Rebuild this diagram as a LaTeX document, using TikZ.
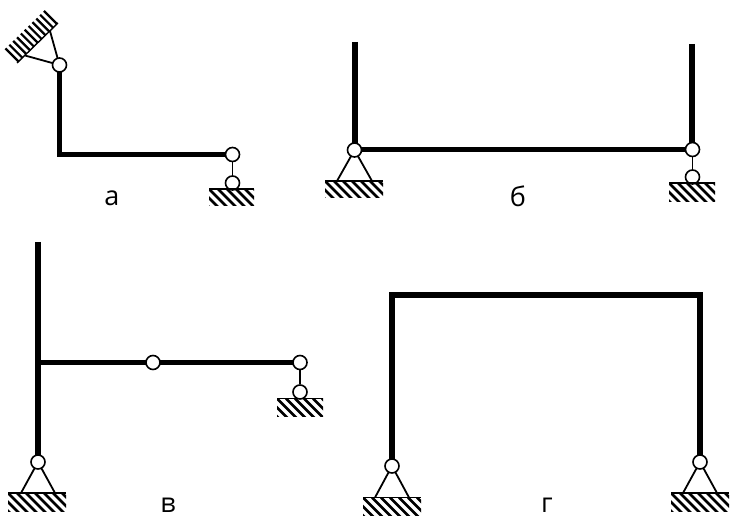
\documentclass[tikz,border=0pt]{standalone}
\usepackage{fontspec}
\setmainfont{Open Sans}
\usetikzlibrary{backgrounds}
\tikzset{
  x=1pt,y=-1pt,
  hinge/.style={circle,draw=black,fill=white,line width=1.6pt,minimum size=14pt,inner sep=0pt},
  frame/.style={line width=5.2pt,line join=miter,line cap=butt},
  thin link/.style={line width=1.8pt},
  groundline/.style={line width=1.4pt},
  hatchline/.style={line width=2.6pt},
  lab/.style={font=\fontsize{27}{27}\selectfont,inner sep=0pt}
}
% \ground{left}{right}{top}{bottom}
\newcommand{\groundhatch}[4]{%
  \begin{scope}
    \clip (#1,#3) rectangle (#2,#4);
    \foreach \k in {-3,...,9} {
      \draw[hatchline] ({#1+\k*9},#3) -- ({#1+\k*9+20},{#3+20});
    }
  \end{scope}
  \draw[groundline] (#1,#3) -- (#2,#3);
}
\begin{document}
\begin{tikzpicture}
\useasboundingbox (0,0) rectangle (741,526);
% hinges
\node[hinge] (a1) at (59.5,65) {};
\node[hinge] (a2) at (232.5,154.5) {};
\node[hinge] (a3) at (232.5,183) {};
\node[hinge] (b1) at (354.5,150) {};
\node[hinge] (b2) at (692.5,149.5) {};
\node[hinge] (b3) at (692.5,177) {};
\node[hinge] (v1) at (38,462) {};
\node[hinge] (v2) at (153,362.5) {};
\node[hinge] (v3) at (300,362.5) {};
\node[hinge] (v4) at (300,392) {};
\node[hinge] (g1) at (392,466) {};
\node[hinge] (g2) at (700,462) {};
% corners and free ends
\coordinate (ac) at (59.5,154.5);
\coordinate (bt1) at (355,42);
\coordinate (bt2) at (692,44);
\coordinate (vt) at (38,242);
\coordinate (vj) at (38,362.5);
\coordinate (gc1) at (392,295);
\coordinate (gc2) at (700,295);
% triangle feet
\coordinate (af1) at (25,55.5);
\coordinate (af2) at (50,31);
\coordinate (bf1) at (337,181);
\coordinate (bf2) at (372,181);
\coordinate (vf1) at (21,493);
\coordinate (vf2) at (55,493);
\coordinate (gf1) at (375,497.5);
\coordinate (gf2) at (409,497.5);
\coordinate (gf3) at (683,493);
\coordinate (gf4) at (717,493);
\begin{scope}[on background layer]
  \draw[frame] (a1.center) -- (ac) -- (a2.center);
  \draw[frame] (bt1) -- (355,149.5) -- (b2.center);
  \draw[frame] (bt2) -- (692,149.5);
  \draw[frame] (vt) -- (v1.center);
  \draw[frame,line width=4.4pt] (vj) -- (v3.center);
  \draw[frame] (g1.center) -- (gc1) -- (gc2) -- (g2.center);
  \draw[thin link] (a2) -- (a3);
  \draw[thin link] (b2) -- (b3);
  \draw[thin link] (v3) -- (v4);
  \draw[thin link] (af1) -- (a1.center) -- (af2);
  \draw[thin link] (bf1) -- (b1.center) -- (bf2);
  \draw[thin link] (vf1) -- (v1.center) -- (vf2);
  \draw[thin link] (gf1) -- (g1.center) -- (gf2);
  \draw[thin link] (gf3) -- (g2.center) -- (gf4);
\end{scope}
% grounds
\groundhatch{209}{254}{189}{206}
\groundhatch{325}{383}{181}{198}
\groundhatch{669}{715}{183}{202}
\groundhatch{8}{66}{493}{511}
\groundhatch{277}{323}{398.5}{416}
\groundhatch{363}{421}{497.5}{515}
\groundhatch{671}{729}{493}{511}
% inclined fixed support
\draw[groundline] (17,63) -- (58,23);
\foreach \t in {0,...,10} {
  \draw[hatchline,line width=2.2pt] ({18.5+\t*3.85},{61.5-\t*3.75}) -- ({18.5+\t*3.85-13},{61.5-\t*3.75-13});
}
% labels
\node[lab] (la) at (112,198) {а};
\node[lab] (lb) at (518,196) {б};
\node[lab] (lv) at (168,505) {в};
\node[lab] (lg) at (547,505) {г};
\end{tikzpicture}
\end{document}
